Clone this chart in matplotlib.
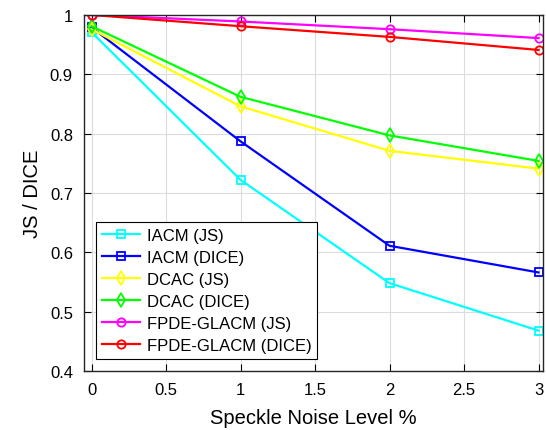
import matplotlib
matplotlib.use('Agg')
import matplotlib.pyplot as plt

noise = [0, 1, 2, 3]
iacm_js = [0.971, 0.722, 0.548, 0.468]
iacm_dice = [0.979, 0.787, 0.611, 0.566]
dcac_js = [0.976, 0.846, 0.771, 0.741]
dcac_dice = [0.981, 0.862, 0.797, 0.754]
fpde_js = [1.0, 0.989, 0.976, 0.961]
fpde_dice = [1.0, 0.981, 0.963, 0.941]

plt.rcParams['font.family'] = ['Liberation Sans', 'DejaVu Sans']

fig = plt.figure(figsize=(5.46, 4.31), dpi=100)
ax = fig.add_axes([0.154, 0.137, 0.8405, 0.826])

series = [
    (iacm_js, 'cyan', 's', 'IACM (JS)'),
    (iacm_dice, 'blue', 's', 'IACM (DICE)'),
    (dcac_js, 'yellow', 'd', 'DCAC (JS)'),
    (dcac_dice, 'lime', 'd', 'DCAC (DICE)'),
    (fpde_js, 'magenta', 'o', 'FPDE-GLACM (JS)'),
    (fpde_dice, 'red', 'o', 'FPDE-GLACM (DICE)'),
]
for vals, col, mk, lab in series:
    ax.plot(noise, vals, color=col, marker=mk, markersize=7 if mk == 'd' else 6,
            markerfacecolor='none', markeredgewidth=1.3, linewidth=1.6, label=lab)

ax.set_xlim(-0.05, 3.03)
ax.set_ylim(0.4, 1.0)
ax.set_xticks([0, 0.5, 1, 1.5, 2, 2.5, 3])
ax.set_xticklabels(['0', '0.5', '1', '1.5', '2', '2.5', '3'])
ax.set_yticks([0.4, 0.5, 0.6, 0.7, 0.8, 0.9, 1.0])
ax.set_yticklabels(['0.4', '0.5', '0.6', '0.7', '0.8', '0.9', '1'])
ax.grid(True, color='#dcdcdc', linewidth=0.8)
ax.set_axisbelow(True)
ax.tick_params(direction='in', top=True, right=True, labelsize=12, length=5, pad=8)
for s in ax.spines.values():
    s.set_linewidth(1.0)
    s.set_color('#262626')
ax.set_xlabel('Speckle Noise Level %', fontsize=14.5, labelpad=8)
ax.set_ylabel('JS / DICE', fontsize=14.5, labelpad=6)

leg = ax.legend(loc='lower left', bbox_to_anchor=(0.026, 0.034), borderaxespad=0,
                fontsize=12, fancybox=False, edgecolor='black', framealpha=1,
                handlelength=2.3, labelspacing=0.42, borderpad=0.35, handletextpad=0.4)
leg.get_frame().set_linewidth(0.8)

fig.savefig('out.png', dpi=100)
